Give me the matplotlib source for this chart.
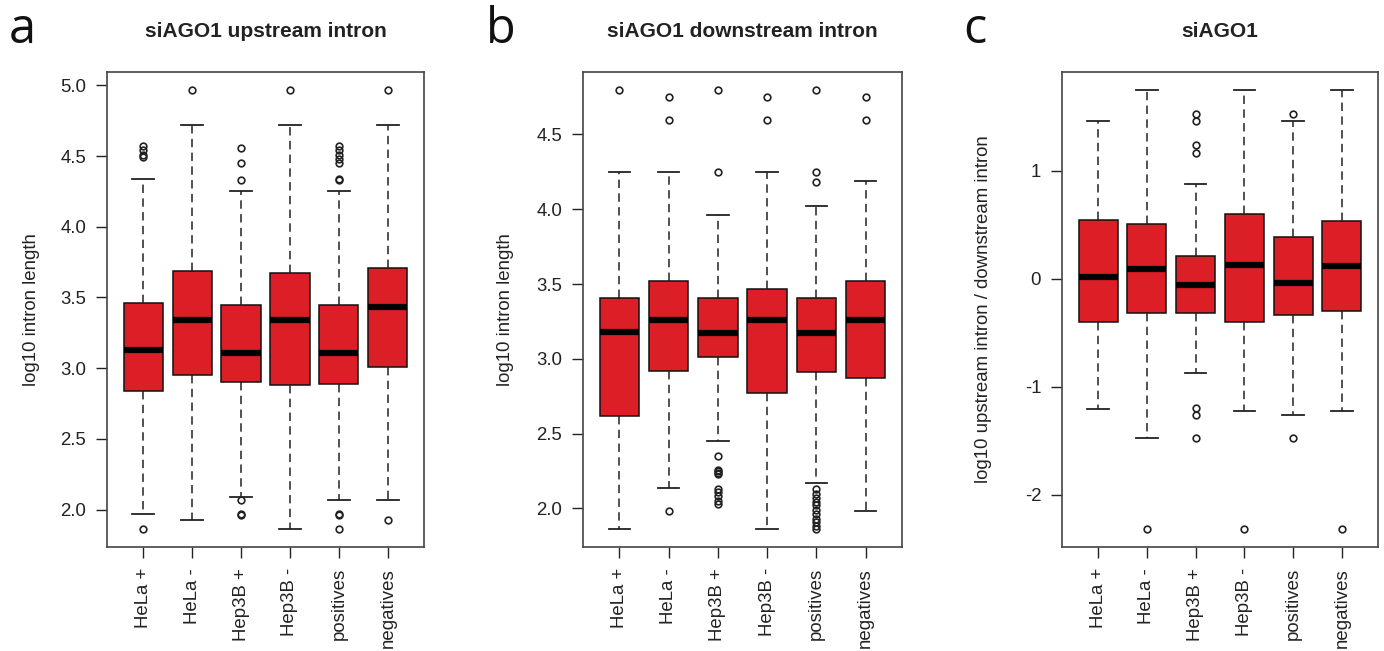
import matplotlib
matplotlib.use('Agg')
import matplotlib.pyplot as plt

plt.rcParams['font.family'] = ['Liberation Sans', 'DejaVu Sans']
plt.rcParams['axes.unicode_minus'] = False
plt.rcParams['axes.ymargin'] = 0.04

groups = ['HeLa +', 'HeLa -', 'Hep3B +', 'Hep3B -', 'positives', 'negatives']

# panel a: upstream intron (log10 length)
up_q1 = [2.84, 2.95, 2.90, 2.88, 2.89, 3.01]
up_med = [3.13, 3.34, 3.11, 3.34, 3.11, 3.43]
up_q3 = [3.46, 3.69, 3.45, 3.67, 3.45, 3.71]
up_lo = [1.97, 1.93, 2.09, 1.86, 2.07, 2.07]
up_hi = [4.34, 4.72, 4.25, 4.72, 4.25, 4.72]
up_out = [[1.86, 4.49, 4.51, 4.54, 4.57],
          [4.97],
          [1.96, 1.97, 2.07, 4.33, 4.45, 4.56],
          [4.97],
          [1.86, 1.96, 1.97, 4.33, 4.34, 4.45, 4.48, 4.51, 4.54, 4.57],
          [1.93, 4.97]]

# panel b: downstream intron (log10 length)
dn_q1 = [2.62, 2.92, 3.01, 2.77, 2.91, 2.87]
dn_med = [3.18, 3.26, 3.17, 3.26, 3.17, 3.26]
dn_q3 = [3.41, 3.52, 3.41, 3.47, 3.41, 3.52]
dn_lo = [1.86, 2.14, 2.45, 1.86, 2.17, 1.98]
dn_hi = [4.25, 4.25, 3.96, 4.25, 4.02, 4.19]
dn_out = [[4.80],
          [1.98, 4.60, 4.75],
          [2.03, 2.05, 2.08, 2.11, 2.13, 2.23, 2.24, 2.25, 2.26, 2.35, 4.25, 4.80],
          [4.60, 4.75],
          [1.86, 1.88, 1.91, 1.93, 1.96, 1.99, 2.02, 2.04, 2.07, 2.10, 2.13,
           4.18, 4.25, 4.80],
          [4.60, 4.75]]

# panel c: log10 upstream / downstream
rt_q1 = [-0.40, -0.32, -0.32, -0.40, -0.34, -0.30]
rt_med = [0.02, 0.09, -0.06, 0.13, -0.04, 0.12]
rt_q3 = [0.54, 0.51, 0.21, 0.60, 0.39, 0.53]
rt_lo = [-1.21, -1.47, -0.87, -1.22, -1.26, -1.22]
rt_hi = [1.46, 1.75, 0.88, 1.75, 1.46, 1.75]
rt_out = [[],
          [-2.32],
          [-1.47, -1.26, -1.20, 1.16, 1.24, 1.46, 1.52],
          [-2.32],
          [-1.47, 1.52],
          [-2.32]]

panels = [
    ('a', 'siAGO1 upstream intron', 'log10 intron length',
     up_q1, up_med, up_q3, up_lo, up_hi, up_out,
     [2.0, 2.5, 3.0, 3.5, 4.0, 4.5, 5.0], '%.1f'),
    ('b', 'siAGO1 downstream intron', 'log10 intron length',
     dn_q1, dn_med, dn_q3, dn_lo, dn_hi, dn_out,
     [2.0, 2.5, 3.0, 3.5, 4.0, 4.5], '%.1f'),
    ('c', 'siAGO1', 'log10 upstream intron / downstream intron',
     rt_q1, rt_med, rt_q3, rt_lo, rt_hi, rt_out,
     [-2, -1, 0, 1], '%d'),
]

W, H = 1384, 651
fig = plt.figure(figsize=(W / 100, H / 100), dpi=100)

# axes boxes in pixels: left, right; and panel-letter x
boxes = [(107, 424, 9), (583, 902, 486), (1062, 1378, 963)]
ylab_x = [32, 505, 983]
top, bottom = 72, 547

red = '#DC1F26'
ink = '#222222'

for (letter, title, ylab, q1, med, q3, lo, hi, out, yt, fmt), (l, r, lx), yx in zip(panels, boxes, ylab_x):
    ax = fig.add_axes([l / W, 1 - bottom / H, (r - l) / W, (bottom - top) / H])
    stats = []
    for i in range(len(groups)):
        stats.append(dict(med=med[i], q1=q1[i], q3=q3[i],
                          whislo=lo[i], whishi=hi[i], fliers=out[i]))
    ax.bxp(stats, positions=range(1, len(groups) + 1), widths=0.8,
           capwidths=0.44, patch_artist=True, showfliers=True,
           boxprops=dict(facecolor=red, edgecolor='#111111', linewidth=1.1),
           medianprops=dict(color='black', linewidth=4.5, solid_capstyle='butt'),
           whiskerprops=dict(color=ink, linewidth=1.1, linestyle=(0, (5.5, 3.5))),
           capprops=dict(color=ink, linewidth=1.3),
           flierprops=dict(marker='o', markerfacecolor='none', markeredgecolor=ink,
                           markersize=4.8, markeredgewidth=1.2))
    ax.set_xlim(0.26, 6.74)
    ax.set_xticks(range(1, len(groups) + 1))
    ax.set_xticklabels(groups, rotation=90)
    ax.set_yticks(yt)
    ax.set_yticklabels([fmt % v for v in yt])
    ax.tick_params(length=8, width=1, pad=7, labelsize=13.4, colors=ink)
    for s in ax.spines.values():
        s.set_color('#444444')
        s.set_linewidth(1.2)
    ax.set_title(title, fontsize=15, fontweight='bold', pad=25, color=ink)
    ax.text((yx - l) / (r - l), 0.5, ylab, rotation=90, ha='center', va='center',
            fontsize=13.4, color=ink, transform=ax.transAxes)
    fig.text(lx / W, 1 - 43 / H, letter, fontsize=35, family=['Open Sans', 'DejaVu Sans'],
             ha='left', va='baseline', color='#111111')

fig.savefig('out.png', dpi=100, facecolor='white')
